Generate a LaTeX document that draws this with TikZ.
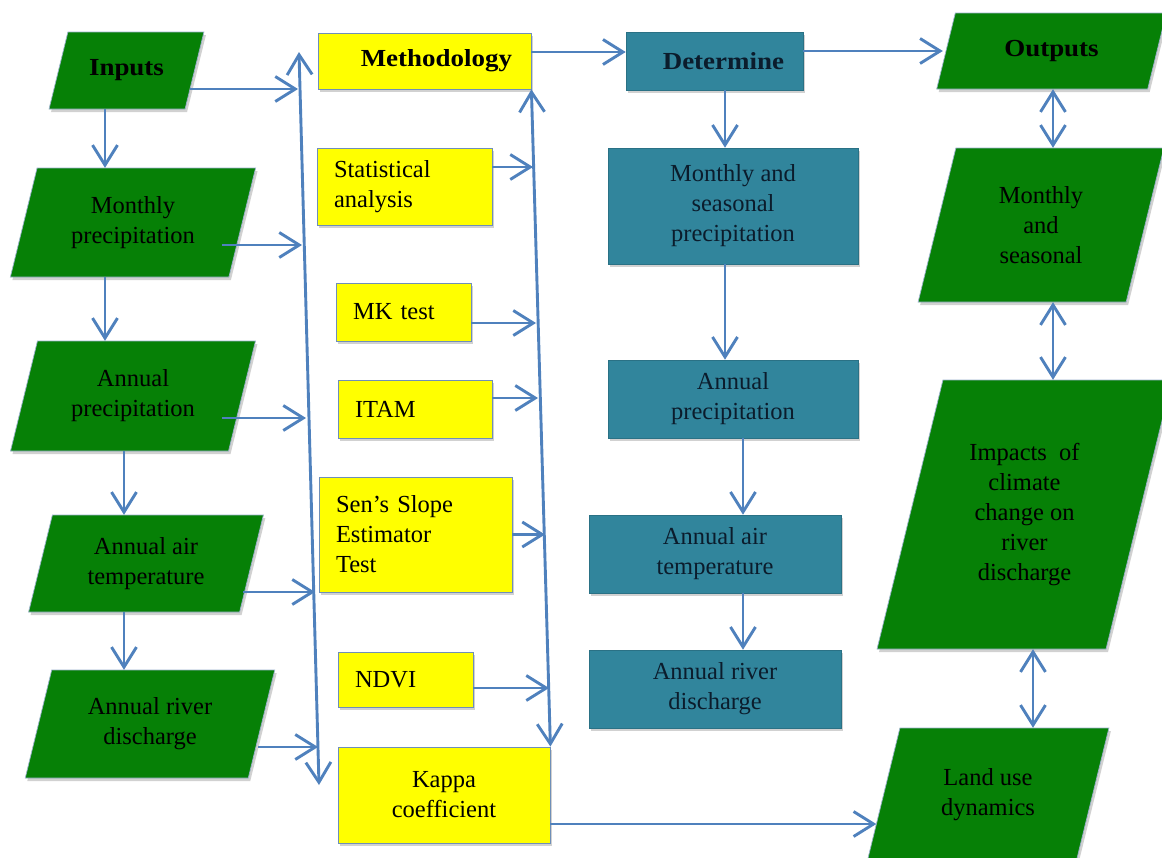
\documentclass[tikz,border=0pt]{standalone}
\usepackage{fontspec}
\setmainfont{Liberation Serif}[BoldFeatures={FakeStretch=1.1}]
\usetikzlibrary{arrows.meta,calc,shadows}

\definecolor{boxgreen}{RGB}{6,128,6}
\definecolor{boxteal}{HTML}{31859C}
\definecolor{boxyellow}{RGB}{255,255,0}
\definecolor{flow}{HTML}{4F81BD}
\definecolor{rim}{HTML}{6F8FB8}
\definecolor{navytext}{HTML}{0B1C2C}

% slanted data box: name, centre x, centre y, side length, height, text
\newcommand{\slantbox}[6]{%
  \fill[parafill] ({#2-#4/2+0.245*#5/2},{#3-#5/2}) -- ({#2+#4/2+0.245*#5/2},{#3-#5/2})
    -- ({#2+#4/2-0.245*#5/2},{#3+#5/2}) -- ({#2-#4/2-0.245*#5/2},{#3+#5/2}) -- cycle;
  \node[paratext, minimum width=#4pt, minimum height=#5pt] (#1) at (#2,#3) {#6};%
}

\begin{document}
\begin{tikzpicture}[x=1pt, y=-1pt,
  txt/.style={font=\fontsize{24.5}{30}\selectfont},
  boldtxt/.style={font=\fontsize{24.5}{30}\selectfont\bfseries},
  softshadow/.style={drop shadow={shadow xshift=2pt, shadow yshift=-3pt, fill=black, opacity=0.18}},
  parafill/.style={fill=boxgreen, draw=rim!70, line width=0.7pt, softshadow},
  paratext/.style={txt, shape=rectangle, inner sep=0pt, align=center, text=black},
  ybox/.style={txt, rectangle, fill=boxyellow, draw=rim, line width=0.8pt, inner sep=0pt, text=black, softshadow},
  tbox/.style={txt, rectangle, fill=boxteal, draw=boxteal!85!black, line width=0.6pt, inner sep=0pt, align=center, text=navytext, softshadow},
  flowarr/.style={draw=flow, line width=2.9pt, -{Straight Barb[length=20pt,width=25pt]}},
  flowboth/.style={draw=flow, line width=2.9pt, {Straight Barb[length=20pt,width=25pt]}-{Straight Barb[length=20pt,width=25pt]}}
]
\useasboundingbox (0,0) rectangle (1162,857);
\fill[white] (0,0) rectangle (1162,857);
\clip (0,0) rectangle (1162,857);

% ---- input data column ----
\slantbox{inp}{126.5}{70.5}{136}{77}{\textbf{Inputs}}
\slantbox{mpin}{133}{222.5}{218.5}{109}{Monthly\\precipitation}
\slantbox{apin}{133}{396}{218}{110}{Annual\\precipitation}
\slantbox{atin}{146}{563.5}{211}{97}{Annual air\\temperature}
\slantbox{arin}{150}{724}{223}{108}{Annual river\\discharge}

% ---- methods column ----
\node[ybox, boldtxt, minimum width=213pt, minimum height=56pt, text width=175pt, inner xsep=19pt, align=right] (meth) at (424.5,61) {Methodology};
\node[ybox, minimum width=175pt, minimum height=77pt, text width=141pt, inner xsep=17pt, align=left] (stat) at (404.5,186.5) {Statistical\\analysis};
\node[ybox, minimum width=135pt, minimum height=58pt, text width=101pt, inner xsep=17pt, align=left] (mk) at (403.5,312) {MK test};
\node[ybox, minimum width=154pt, minimum height=58pt, text width=120pt, inner xsep=17pt, align=left] (itam) at (415,409) {ITAM};
\node[ybox, minimum width=193pt, minimum height=115pt, text width=159pt, inner xsep=17pt, align=left] (sens) at (415.5,534.5) {Sen’s Slope\\Estimator\\Test};
\node[ybox, minimum width=135pt, minimum height=55pt, text width=101pt, inner xsep=17pt, align=left] (ndvi) at (405.5,679.5) {NDVI};
\node[ybox, minimum width=212pt, minimum height=96pt, align=center] (kap) at (444,795) {Kappa\\coefficient};

% ---- determined quantities ----
\node[tbox, boldtxt, minimum width=177pt, minimum height=58pt, text width=139pt, inner xsep=19pt, align=right] (det) at (714.5,61) {Determine};
\node[tbox, minimum width=250pt, minimum height=116pt] (msd) at (733,206) {Monthly and\\seasonal\\precipitation};
\node[tbox, minimum width=250pt, minimum height=78pt] (apd) at (733,399) {Annual\\precipitation};
\node[tbox, minimum width=252pt, minimum height=78pt] (atd) at (715,554) {Annual air\\temperature};
\node[tbox, minimum width=252pt, minimum height=78pt] (ard) at (715,689) {Annual river\\discharge};

% ---- outputs column ----
\slantbox{out}{1051.5}{51}{211}{76}{\textbf{Outputs}}
\slantbox{mso}{1041}{225}{208}{154}{Monthly\\and\\seasonal}
\slantbox{imp}{1024.5}{514.5}{229}{269}{Impacts\ \ of\\climate\\change on\\river\\discharge}
\slantbox{lud}{988}{795}{209}{134}{Land use\\dynamics}

% ---- rails ----
\coordinate (railLtop) at (299,52);
\coordinate (railLbot) at (319,785);
\coordinate (inL1) at (298,89);
\coordinate (inL2) at (302,245);
\coordinate (inL3) at (306,418);
\coordinate (inL4) at (315,592);
\coordinate (inL5) at (318,747);
\coordinate (inR1) at (533,167);
\coordinate (inR2) at (536,323);
\coordinate (inR3) at (538,398);
\coordinate (inR4) at (545,534.5);
\coordinate (inR5) at (549,688);

% input column, top to bottom
\draw[flowarr] ($(inp.south)+(-21.5,0)$) -- ($(mpin.north)+(-28,0)$);
\draw[flowarr] ($(mpin.south)+(-28,0)$) -- ($(apin.north)+(-28,0)$);
\draw[flowarr] ($(apin.south)+(-9,0)$) -- ($(atin.north)+(-22,0)$);
\draw[flowarr] ($(atin.south)+(-22,0)$) -- ($(arin.north)+(-26,0)$);

% inputs into the left rail
\draw[flowarr] ($(inp.east)+(-4.5,18.5)$) -- (inL1);
\draw[flowarr] ($(mpin.east)+(-20,22.5)$) -- (inL2);
\draw[flowarr] ($(apin.east)+(-20,22)$) -- (inL3);
\draw[flowarr] ($(atin.east)+(-8.5,28.5)$) -- (inL4);
\draw[flowarr] ($(arin.east)+(-3.5,23)$) -- (inL5);
\draw[flowboth] (railLtop) -- (railLbot);

% methods into the right rail
\draw[flowarr] ($(stat.east)+(0,-19.5)$) -- (inR1);
\draw[flowarr] ($(mk.east)+(0,11)$) -- (inR2);
\draw[flowarr] ($(itam.east)+(0,-11)$) -- (inR3);
\draw[flowarr] (sens.east) -- (inR4);
\draw[flowarr] ($(ndvi.east)+(0,8.5)$) -- (inR5);
\draw[flowboth] (kap.north east) -- (meth.south east);

% top row and bottom link
\draw[flowarr] ($(meth.east)+(0,-9)$) -- ($(det.west)+(0,-9)$);
\draw[flowarr] ($(det.east)+(0,-10)$) -- ($(out.west)+(-3,0)$);
\draw[flowarr] ($(kap.east)+(0,29)$) -- ($(lud.west)+(-7,29)$);

% determine column
\draw[flowarr] ($(det.south)+(10.5,0)$) -- ($(msd.north)+(-8,0)$);
\draw[flowarr] ($(msd.south)+(-8,0)$) -- ($(apd.north)+(-8,0)$);
\draw[flowarr] ($(apd.south)+(10,0)$) -- ($(atd.north)+(28,0)$);
\draw[flowarr] ($(atd.south)+(28,0)$) -- ($(ard.north)+(28,0)$);

% outputs column
\draw[flowboth] ($(out.south)+(1.5,0)$) -- ($(mso.north)+(12,0)$);
\draw[flowboth] ($(mso.south)+(12,0)$) -- ($(imp.north)+(28.5,0)$);
\draw[flowboth] ($(imp.south)+(8.5,0)$) -- ($(lud.north)+(45,0)$);
\end{tikzpicture}
\end{document}
